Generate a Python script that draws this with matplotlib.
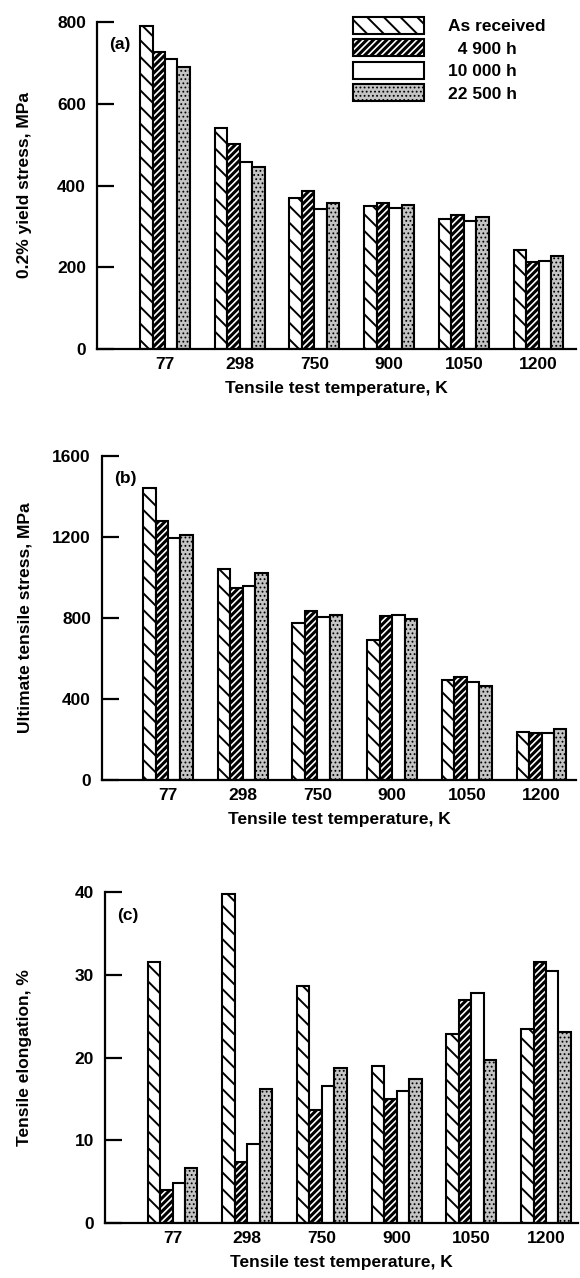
import numpy as np
import matplotlib
matplotlib.use('Agg')
import matplotlib.pyplot as plt

# ── data ─────────────────────────────────────────────────────────────────
temps = ['77', '298', '750', '900', '1050', '1200']
series = ['As received', '  4 900 h', '10 000 h', '22 500 h']

yield_as   = [790, 541, 370, 350, 319, 242]
yield_4900 = [727, 502, 387, 356, 327, 212]
yield_10k  = [709, 458, 342, 344, 314, 215]
yield_22k  = [691, 446, 357, 352, 322, 228]

uts_as   = [1444, 1041, 773, 692, 495, 235]
uts_4900 = [1277, 949, 837, 811, 510, 232]
uts_10k  = [1195, 957, 805, 816, 485, 232]
uts_22k  = [1211, 1022, 813, 797, 465, 250]

elong_as   = [31.5, 39.8, 28.6, 19.0, 22.9, 23.4]
elong_4900 = [4.0, 7.4, 13.7, 15.0, 27.0, 31.5]
elong_10k  = [4.8, 9.5, 16.6, 16.0, 27.8, 30.4]
elong_22k  = [6.6, 16.2, 18.7, 17.4, 19.7, 23.1]

plt.rcParams['font.family'] = ['Liberation Sans', 'DejaVu Sans']
plt.rcParams['font.weight'] = 'bold'
plt.rcParams['hatch.linewidth'] = 1.5

W, H = 580, 1278
fig = plt.figure(figsize=(W / 100, H / 100), dpi=100)

styles = [dict(facecolor='white', hatch='\\\\'),
          dict(facecolor='white', hatch='/////'),
          dict(facecolor='white', hatch=''),
          dict(facecolor='#c4c4c4', hatch='....')]
hatch_lw = [1.4, 2.2, 1.0, 0.8]

bw = 0.1667
step = 74.7  # px per group
FS = 12.5


def panel(L, T, B, c0, R, data, ylim, yticks, ylabel, tag, legend=False):
    ax = fig.add_axes([L / W, 1 - B / H, (R - L) / W, (B - T) / H])
    x = np.arange(len(temps))
    for j, vals in enumerate(data):
        bars = ax.bar(x + (j - 1.5) * bw, vals, width=bw, edgecolor='black',
                      linewidth=1.5, label=series[j], **styles[j])
        for b in bars:
            if hasattr(b, 'set_hatch_linewidth'):
                b.set_hatch_linewidth(hatch_lw[j])
    ax.set_xlim((L - c0) / step, (R - c0) / step)
    ax.set_ylim(*ylim)
    ax.set_yticks(yticks)
    ax.set_xticks(x)
    ax.set_xticklabels(temps)
    for s in ['top', 'right']:
        ax.spines[s].set_visible(False)
    for s in ['left', 'bottom']:
        ax.spines[s].set_linewidth(1.6)
    ax.tick_params(axis='y', direction='in', length=12, width=1.6,
                   pad=8, labelsize=FS)
    ax.tick_params(axis='x', length=0, pad=6, labelsize=FS)
    ax.set_xlabel('Tensile test temperature, K', fontsize=FS,
                  fontweight='bold', labelpad=6)
    fig.text(25 / W, 1 - (T + B) / 2 / H, ylabel, rotation=90,
             ha='center', va='center', fontsize=FS, fontweight='bold')
    ax.text(0.025, 0.93, tag, transform=ax.transAxes, fontsize=FS,
            fontweight='bold', ha='left', va='center')
    if legend:
        leg = ax.legend(loc='upper left', bbox_to_anchor=(353 / W, 1 - 17 / H),
                        bbox_transform=fig.transFigure, frameon=False,
                        fontsize=FS, handlelength=4.1, handleheight=1.1,
                        labelspacing=0.3, handletextpad=1.4, borderpad=0,
                        borderaxespad=0)
        for j, p in enumerate(leg.get_patches()):
            if hasattr(p, 'set_hatch_linewidth'):
                p.set_hatch_linewidth(hatch_lw[j])
    return ax


panel(97, 22, 349, 165, 576,
      [yield_as, yield_4900, yield_10k, yield_22k],
      (0, 800), [0, 200, 400, 600, 800], '0.2% yield stress, MPa', '(a)',
      legend=True)
panel(102, 456, 780, 168, 576,
      [uts_as, uts_4900, uts_10k, uts_22k],
      (0, 1600), [0, 400, 800, 1200, 1600], 'Ultimate tensile stress, MPa', '(b)')
panel(105, 892, 1223, 172.5, 578,
      [elong_as, elong_4900, elong_10k, elong_22k],
      (0, 40), [0, 10, 20, 30, 40], 'Tensile elongation, %', '(c)')

fig.savefig('out.png', dpi=100)
